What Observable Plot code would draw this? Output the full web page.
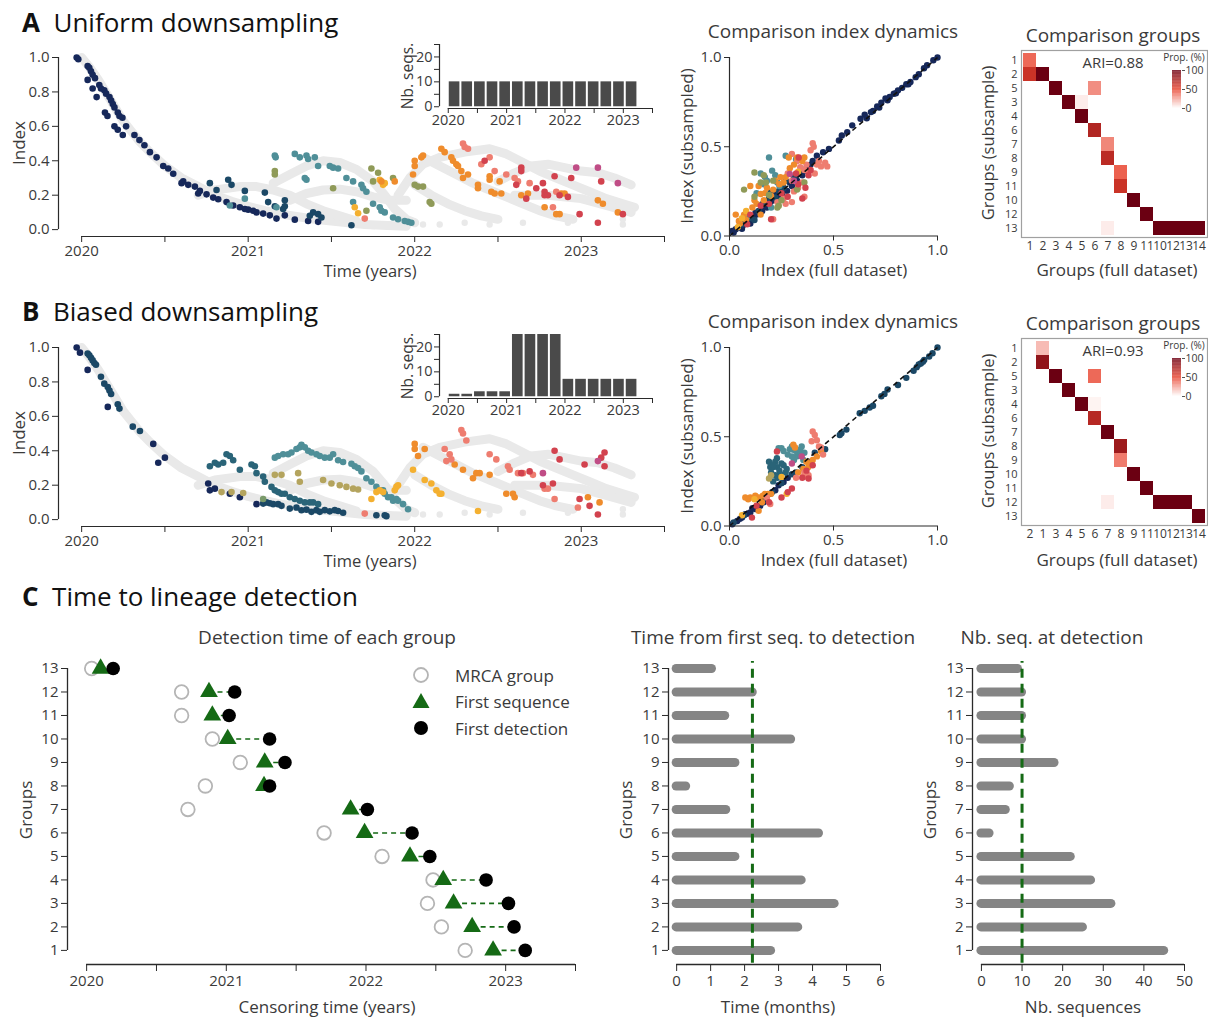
<!DOCTYPE html>
<html><head><meta charset="utf-8">
<script src="https://cdn.jsdelivr.net/npm/d3@7"></script>
<script src="https://cdn.jsdelivr.net/npm/@observablehq/plot@0.6"></script>
<style>
body{margin:0;background:#fff;}
#root{position:relative;width:1208px;height:1020px;overflow:hidden;font-family:"Open Sans","Noto Sans",sans-serif;color:#333;}
.t{position:absolute;white-space:nowrap;line-height:1;}
</style></head><body><div id="root"></div><script>
// ---------------- DATA ----------------
// colour keys for lineage groups
const palette = {N:"#16285a", D:"#1b4866", U:"#2a6478", T:"#4f8f98", O:"#8f9a58", K:"#b4a45e", G:"#7a9a6a",
  Y:"#f4b030", R:"#ef8c2c", S:"#ee7d70", E:"#d2424e", M:"#c04d86"};

// full-dataset background tracks (years since 2020, index)
const grayBands = [
 [[0,1.0],[0.05,0.94],[0.1,0.87],[0.15,0.79],[0.2,0.71],[0.25,0.63],[0.3,0.57],[0.35,0.51],[0.4,0.46],[0.5,0.37],[0.6,0.30],[0.7,0.25],[0.8,0.20],[0.9,0.165],[1.0,0.135],[1.1,0.11],[1.2,0.09],[1.3,0.075],[1.4,0.06],[1.5,0.05],[1.6,0.04],[1.7,0.03],[1.8,0.025],[1.95,0.02]],
 [[0.7,0.2],[0.8,0.23],[0.95,0.25],[1.05,0.25],[1.15,0.23],[1.25,0.2],[1.35,0.15],[1.45,0.11],[1.55,0.08],[1.65,0.05]],
 [[1.15,0.27],[1.25,0.32],[1.35,0.37],[1.45,0.40],[1.55,0.39],[1.65,0.35],[1.75,0.28],[1.82,0.2],[1.88,0.12],[1.95,0.06],[2.0,0.04]],
 [[1.25,0.17],[1.35,0.21],[1.45,0.23],[1.55,0.235],[1.65,0.22],[1.75,0.19],[1.85,0.17],[1.95,0.17]],
 [[1.9,0.2],[1.97,0.3],[2.05,0.38],[2.15,0.42],[2.3,0.45],[2.45,0.47],[2.55,0.44],[2.65,0.39],[2.75,0.34],[2.85,0.3],[2.95,0.26],[3.05,0.22],[3.15,0.18],[3.25,0.15],[3.32,0.13]],
 [[2.05,0.42],[2.15,0.37],[2.25,0.32],[2.35,0.27],[2.45,0.23],[2.55,0.19],[2.65,0.15],[2.75,0.11],[2.85,0.08],[2.95,0.06]],
 [[2.5,0.28],[2.6,0.33],[2.7,0.37],[2.8,0.38],[2.9,0.36],[3.0,0.34],[3.1,0.33],[3.2,0.3],[3.3,0.26]],
 [[2.6,0.2],[2.8,0.2],[3.0,0.18],[3.15,0.14],[3.3,0.1]],
 [[2.0,0.26],[2.1,0.2],[2.2,0.15],[2.3,0.11],[2.4,0.08],[2.5,0.06]]
];
const grayDots = [[2.15,0.03],[2.3,0.04],[2.45,0.03],[2.92,0.04],[3.25,0.03],[3.25,0.06],[2.65,0.04],[2.05,0.03],[1.85,0.03],[1.75,0.02]];

// uniform downsampling: [years since 2020, index, group]
const uniformPts = [
 [-0.03,1.0,"N"],[-0.02,0.99,"N"],[0.036,0.95,"N"],[0.046,0.94,"N"],[0.056,0.92,"N"],[0.066,0.90,"N"],[0.08,0.88,"N"],[0.036,0.87,"N"],[0.066,0.82,"N"],[0.106,0.84,"N"],[0.116,0.82,"N"],[0.136,0.81,"N"],[0.147,0.79,"N"],[0.167,0.77,"N"],[0.177,0.75,"N"],[0.187,0.73,"N"],[0.197,0.71,"N"],[0.217,0.68,"N"],[0.227,0.66,"N"],[0.245,0.65,"N"],[0.09,0.77,"N"],[0.14,0.68,"N"],[0.155,0.66,"N"],[0.197,0.60,"N"],[0.217,0.58,"N"],[0.247,0.55,"N"],[0.267,0.60,"N"],[0.317,0.55,"N"],[0.347,0.52,"N"],[0.377,0.49,"N"],[0.41,0.45,"N"],[0.45,0.42,"N"],[0.49,0.37,"N"],[0.52,0.355,"N"],[0.55,0.325,"N"],[0.61,0.28,"N"],[0.64,0.26,"N"],[0.68,0.25,"N"],[0.71,0.225,"N"],[0.75,0.205,"N"],[0.79,0.186,"N"],[0.82,0.176,"N"],[0.87,0.16,"N"],[0.91,0.14,"N"],[0.95,0.13,"N"],[1.0,0.116,"N"],[1.05,0.10,"N"],[1.09,0.093,"N"],[1.13,0.083,"N"],[1.17,0.064,"N"],[1.22,0.083,"N"],[1.28,0.058,"N"],[1.36,0.05,"N"],[1.42,0.045,"N"],[0.70,0.21,"N"],[0.60,0.27,"N"],[0.98,0.12,"N"],[1.03,0.11,"N"],
 [0.77,0.27,"D"],[0.81,0.23,"D"],[0.88,0.29,"D"],[0.90,0.26,"D"],[0.98,0.225,"D"],[1.10,0.215,"D"],[1.12,0.16,"D"],[1.16,0.136,"D"],[1.22,0.17,"D"],[1.22,0.136,"D"],[1.21,0.12,"D"],[1.39,0.10,"D"],[1.44,0.07,"D"],[1.62,0.025,"D"],[1.37,0.08,"D"],[1.42,0.09,"D"],
 [0.89,0.14,"T"],[0.98,0.18,"T"],[1.16,0.43,"T"],[1.165,0.42,"T"],[1.28,0.44,"T"],[1.31,0.42,"T"],[1.35,0.43,"T"],[1.36,0.41,"T"],[1.40,0.42,"T"],[1.42,0.37,"T"],[1.49,0.37,"T"],[1.51,0.36,"T"],[1.54,0.355,"T"],[1.59,0.30,"T"],[1.63,0.28,"T"],[1.68,0.26,"T"],[1.69,0.24,"T"],[1.71,0.22,"T"],[1.75,0.15,"T"],[1.79,0.13,"T"],[1.80,0.11,"T"],[1.34,0.30,"T"],[1.35,0.29,"T"],[1.63,0.16,"T"],[1.82,0.10,"T"],[1.87,0.07,"T"],[1.90,0.06,"T"],[1.94,0.05,"T"],[1.96,0.045,"T"],[1.98,0.04,"T"],[1.17,0.13,"T"],
 [1.16,0.34,"O"],[1.16,0.32,"O"],[1.51,0.24,"O"],[1.74,0.355,"O"],[1.78,0.33,"O"],[1.75,0.28,"O"],[1.71,0.11,"O"],[1.87,0.30,"O"],[2.0,0.26,"O"],[2.02,0.25,"O"],[2.05,0.25,"O"],[2.09,0.16,"O"],[2.1,0.15,"O"],
 [1.64,0.13,"Y"],[1.66,0.095,"Y"],[1.79,0.29,"Y"],[1.81,0.26,"Y"],[1.82,0.27,"Y"],
 [1.88,0.28,"R"],[1.80,0.28,"R"],[2.0,0.40,"R"],[2.0,0.37,"R"],[1.99,0.32,"R"],[2.04,0.42,"R"],[2.05,0.43,"R"],[2.16,0.47,"R"],[2.18,0.45,"R"],[2.22,0.42,"R"],[2.23,0.40,"R"],[2.25,0.38,"R"],[2.26,0.37,"R"],[2.28,0.34,"R"],[2.29,0.30,"R"],[2.32,0.32,"R"],[2.38,0.26,"R"],[2.38,0.24,"R"],[2.45,0.31,"R"],[2.45,0.29,"R"],[2.46,0.22,"R"],[2.48,0.21,"R"],[2.51,0.28,"R"],[2.52,0.21,"R"],[2.64,0.20,"R"],[2.68,0.21,"R"],[2.78,0.13,"R"],[2.85,0.09,"R"],[2.87,0.09,"R"],[2.88,0.21,"R"],[2.90,0.21,"R"],[3.1,0.17,"R"],[3.13,0.15,"R"],[3.22,0.10,"R"],
 [2.29,0.50,"S"],[2.30,0.48,"S"],[2.32,0.47,"S"],[2.40,0.38,"S"],[2.45,0.42,"S"],[2.48,0.34,"S"],[2.55,0.32,"S"],[2.60,0.30,"S"],[2.62,0.28,"S"],[2.83,0.13,"S"],[2.85,0.22,"S"],[1.70,0.064,"S"],[2.69,0.27,"S"],
 [2.42,0.40,"E"],[2.64,0.36,"E"],[2.64,0.34,"E"],[2.73,0.24,"E"],[2.77,0.27,"E"],[2.78,0.22,"E"],[2.78,0.20,"E"],[2.80,0.20,"E"],[2.84,0.31,"E"],[2.87,0.20,"E"],[2.92,0.19,"E"],[2.67,0.18,"E"],[2.99,0.09,"E"],[2.94,0.30,"E"],[3.1,0.04,"E"],[3.12,0.28,"E"],[3.25,0.09,"E"],[2.61,0.26,"E"],
 [2.97,0.36,"M"],[3.1,0.36,"M"],[3.22,0.27,"M"]
];

// biased downsampling: [years since 2020, index, group]
const biasedPts = [
 [-0.03,1.0,"N"],[-0.01,0.97,"N"],[0.036,0.87,"N"],[0.157,0.655,"N"],[0.43,0.44,"N"],[0.46,0.33,"N"],[0.50,0.36,"N"],[0.76,0.21,"N"],[0.77,0.17,"N"],[0.80,0.18,"N"],[0.89,0.15,"N"],[0.95,0.13,"N"],[1.05,0.09,"N"],
 [0.036,0.965,"D"],[0.046,0.955,"D"],[0.056,0.94,"D"],[0.066,0.925,"D"],[0.076,0.91,"D"],[0.086,0.90,"D"],[0.116,0.83,"D"],[0.136,0.79,"D"],[0.157,0.77,"D"],[0.167,0.75,"D"],[0.177,0.73,"D"],[0.217,0.67,"D"],[0.227,0.645,"D"],[0.307,0.54,"D"],[0.35,0.515,"D"],
 [1.09,0.093,"D"],[1.11,0.10,"D"],[1.13,0.095,"D"],[1.15,0.09,"D"],[1.18,0.09,"D"],[1.20,0.08,"D"],[1.25,0.064,"D"],[1.29,0.07,"D"],[1.32,0.054,"D"],[1.35,0.058,"D"],[1.38,0.045,"D"],[1.41,0.055,"D"],[1.43,0.045,"D"],[1.46,0.055,"D"],[1.49,0.048,"D"],[1.52,0.055,"D"],[1.54,0.05,"D"],[1.57,0.04,"D"],[1.77,0.025,"D"],[1.82,0.025,"D"],[1.83,0.02,"D"],
 [0.77,0.31,"U"],[0.80,0.33,"U"],[0.82,0.32,"U"],[0.85,0.33,"U"],[0.87,0.38,"U"],[0.89,0.37,"U"],[0.91,0.345,"U"],[0.95,0.29,"U"],[1.02,0.32,"U"],[1.04,0.31,"U"],[1.05,0.27,"U"],[1.09,0.25,"U"],[1.10,0.22,"U"],[1.14,0.19,"U"],[1.16,0.17,"U"],[1.18,0.16,"U"],[1.20,0.15,"U"],[1.22,0.15,"U"],[1.25,0.13,"U"],[1.28,0.12,"U"],[1.31,0.11,"U"],[1.34,0.10,"U"],[1.37,0.10,"U"],[1.39,0.10,"U"],[1.42,0.09,"U"],
 [1.16,0.36,"T"],[1.18,0.37,"T"],[1.21,0.38,"T"],[1.24,0.38,"T"],[1.26,0.39,"T"],[1.29,0.41,"T"],[1.31,0.42,"T"],[1.32,0.435,"T"],[1.34,0.42,"T"],[1.36,0.40,"T"],[1.38,0.39,"T"],[1.41,0.38,"T"],[1.43,0.37,"T"],[1.46,0.36,"T"],[1.49,0.36,"T"],[1.51,0.38,"T"],[1.54,0.345,"T"],[1.57,0.335,"T"],[1.62,0.325,"T"],[1.64,0.31,"T"],[1.66,0.30,"T"],[1.68,0.28,"T"],[1.71,0.24,"T"],[1.74,0.22,"T"],[1.77,0.19,"T"],[1.80,0.17,"T"],[1.81,0.17,"T"],[1.84,0.13,"T"],[1.86,0.13,"T"],[1.87,0.11,"T"],[1.89,0.12,"T"],[1.90,0.11,"T"],[1.93,0.09,"T"],[1.96,0.06,"T"],[1.82,0.15,"T"],
 [0.84,0.16,"K"],[0.90,0.16,"K"],[0.97,0.155,"K"],[1.16,0.26,"K"],[1.20,0.26,"K"],[1.30,0.27,"K"],[1.31,0.22,"K"],[1.45,0.23,"K"],[1.50,0.21,"K"],[1.55,0.20,"K"],[1.59,0.19,"K"],[1.63,0.18,"K"],[1.66,0.175,"K"],
 [1.09,0.12,"G"],
 [1.74,0.12,"Y"],[1.77,0.16,"Y"],[1.79,0.17,"Y"],[1.81,0.16,"Y"],[1.88,0.17,"Y"],[1.89,0.19,"Y"],[1.90,0.20,"Y"],[2.06,0.23,"Y"],[2.10,0.21,"Y"],[2.13,0.17,"Y"],[2.15,0.15,"Y"],[2.16,0.15,"Y"],[1.99,0.29,"Y"],[2.38,0.05,"Y"],
 [2.0,0.44,"R"],[2.0,0.41,"R"],[2.02,0.37,"R"],[2.06,0.41,"R"],[2.24,0.32,"R"],[2.29,0.29,"R"],[2.35,0.24,"R"],[2.37,0.27,"R"],[2.39,0.27,"R"],[2.45,0.26,"R"],[2.55,0.15,"R"],[2.59,0.15,"R"],[2.60,0.13,"R"],[3.04,0.13,"R"],[3.11,0.10,"R"],
 [2.28,0.52,"S"],[2.29,0.50,"S"],[2.31,0.46,"S"],[2.18,0.41,"S"],[2.21,0.38,"S"],[2.19,0.34,"S"],[2.22,0.35,"S"],[2.45,0.38,"S"],[2.49,0.35,"S"],[2.56,0.31,"S"],[2.57,0.29,"S"],[2.62,0.27,"S"],[2.65,0.27,"S"],[2.71,0.26,"S"],[2.78,0.18,"S"],[2.80,0.18,"S"],[2.84,0.12,"S"],[2.98,0.07,"S"],[1.70,0.035,"S"],
 [2.64,0.27,"E"],[2.69,0.28,"E"],[2.77,0.20,"E"],[2.83,0.21,"E"],[2.84,0.40,"E"],[2.87,0.35,"E"],[2.99,0.12,"E"],[3.02,0.32,"E"],[3.05,0.08,"E"],[3.10,0.03,"E"],[3.12,0.36,"E"],[3.14,0.31,"E"],[3.14,0.39,"E"],
 [2.77,0.27,"M"],[3.10,0.34,"M"]
];

// sequences per sampling window (15 windows from 2020 to 2023.25)
const insetCountsA = [10,10,10,10,10,10,10,10,10,10,10,10,10,10,10];
const insetCountsB = [1,1,2,2,2,25,25,25,25,7,7,7,7,7,7];

// comparison: [index full dataset, index subsampled, group]
const compA = [
 [1,1,"N"],[0.98,0.985,"N"],[0.95,0.957,"N"],[0.935,0.94,"N"],[0.91,0.906,"N"],[0.895,0.89,"N"],[0.87,0.863,"N"],[0.85,0.85,"N"],[0.83,0.83,"N"],[0.81,0.816,"N"],[0.79,0.797,"N"],[0.77,0.779,"N"],[0.76,0.76,"N"],[0.73,0.747,"N"],[0.71,0.726,"N"],[0.68,0.694,"N"],[0.65,0.679,"N"],[0.63,0.657,"N"],[0.59,0.62,"N"],[0.566,0.582,"N"],[0.54,0.563,"N"],[0.526,0.535,"N"],[0.478,0.488,"N"],[0.45,0.469,"N"],[0.42,0.45,"N"],[0.40,0.42,"N"],[0.75,0.77,"N"],[0.72,0.72,"N"],[0.69,0.70,"N"],[0.86,0.85,"N"],[0.80,0.80,"N"],[0.66,0.66,"N"],
 [0.013,0.028,"N"],[0.03,0.038,"N"],[0.053,0.056,"N"],[0.077,0.075,"N"],[0.09,0.08,"N"],[0.117,0.10,"N"],[0.13,0.12,"N"],[0.157,0.14,"N"],[0.18,0.16,"N"],[0.197,0.19,"N"],[0.21,0.2,"N"],[0.237,0.216,"N"],[0.253,0.235,"N"],[0.277,0.253,"N"],[0.30,0.28,"N"],[0.325,0.31,"N"],[0.35,0.34,"N"],[0.365,0.366,"N"],[0.38,0.385,"N"],[0.14,0.13,"N"],[0.1,0.07,"N"],[0.06,0.04,"N"],
 [0.02,0.02,"N"],[0.045,0.05,"N"],[0.065,0.06,"N"],[0.085,0.09,"N"],[0.105,0.11,"N"],[0.125,0.13,"N"],[0.17,0.17,"N"],[0.19,0.17,"N"],[0.225,0.24,"N"],[0.245,0.25,"N"],[0.265,0.26,"N"],[0.29,0.30,"N"],[0.315,0.33,"N"],[0.34,0.35,"N"],[0.37,0.38,"N"],[0.39,0.40,"N"],
 [0.10,0.10,"D"],[0.14,0.14,"D"],[0.157,0.178,"D"],[0.197,0.244,"D"],[0.22,0.216,"D"],[0.237,0.253,"D"],[0.26,0.27,"D"],[0.27,0.31,"D"],[0.31,0.33,"D"],[0.06,0.066,"D"],[0.19,0.21,"D"],[0.12,0.09,"D"],
 [0.19,0.44,"T"],[0.27,0.45,"T"],[0.205,0.366,"T"],[0.22,0.34,"T"],[0.15,0.35,"T"],[0.165,0.29,"T"],[0.32,0.43,"T"],[0.24,0.28,"T"],[0.09,0.11,"T"],[0.2,0.16,"T"],[0.17,0.33,"T"],[0.18,0.31,"T"],[0.23,0.30,"T"],[0.13,0.24,"T"],
 [0.40,0.52,"S"],[0.405,0.50,"S"],[0.30,0.46,"S"],[0.325,0.42,"S"],[0.28,0.35,"S"],[0.30,0.31,"S"],[0.34,0.385,"S"],[0.37,0.40,"S"],[0.42,0.40,"S"],[0.44,0.39,"S"],[0.47,0.39,"S"],[0.41,0.35,"S"],[0.36,0.22,"S"],[0.26,0.21,"S"],[0.21,0.094,"S"],[0.23,0.19,"S"],[0.30,0.19,"S"],[0.33,0.27,"S"],[0.39,0.48,"S"],[0.43,0.42,"S"],[0.46,0.41,"S"],[0.38,0.36,"S"],[0.35,0.30,"S"],[0.31,0.25,"S"],[0.27,0.18,"S"],[0.36,0.37,"S"],
 [0.03,0.12,"R"],[0.045,0.084,"R"],[0.10,0.28,"R"],[0.14,0.28,"R"],[0.15,0.235,"R"],[0.165,0.20,"R"],[0.20,0.225,"R"],[0.22,0.31,"R"],[0.245,0.33,"R"],[0.285,0.44,"R"],[0.325,0.44,"R"],[0.35,0.42,"R"],[0.15,0.12,"R"],[0.11,0.16,"R"],[0.07,0.12,"R"],[0.18,0.27,"R"],[0.26,0.30,"R"],[0.12,0.2,"R"],[0.08,0.09,"R"],[0.13,0.18,"R"],[0.17,0.24,"R"],[0.21,0.26,"R"],[0.24,0.29,"R"],[0.27,0.33,"R"],[0.29,0.38,"R"],[0.31,0.40,"R"],[0.36,0.44,"R"],[0.05,0.07,"R"],
 [0.04,0.05,"Y"],[0.06,0.1,"Y"],[0.08,0.14,"Y"],[0.33,0.36,"Y"],
 [0.07,0.26,"O"],[0.12,0.356,"O"],[0.165,0.34,"O"],[0.175,0.30,"O"],[0.15,0.30,"O"],[0.237,0.17,"O"],[0.23,0.16,"O"],[0.36,0.30,"O"],[0.325,0.26,"O"],[0.25,0.2,"O"],[0.12,0.22,"O"],[0.19,0.23,"O"],[0.21,0.31,"O"],
 [0.10,0.12,"E"],[0.085,0.066,"E"],[0.19,0.18,"E"],[0.2,0.094,"E"],[0.333,0.44,"E"],[0.365,0.27,"E"],[0.38,0.34,"E"],[0.35,0.21,"E"],[0.32,0.35,"E"],[0.28,0.22,"E"],[0.39,0.37,"E"],[0.33,0.29,"E"],[0.25,0.24,"E"],[0.15,0.17,"E"],
 [0.31,0.31,"M"],[0.29,0.347,"M"]
];
const compB = [
 [1,1,"D"],[0.976,0.968,"D"],[0.96,0.95,"D"],[0.936,0.93,"D"],[0.92,0.91,"D"],[0.9,0.89,"D"],[0.885,0.87,"D"],[0.85,0.83,"D"],[0.81,0.79,"D"],[0.76,0.765,"D"],[0.745,0.74,"D"],[0.73,0.727,"D"],[0.69,0.674,"D"],[0.674,0.664,"D"],[0.65,0.645,"D"],[0.626,0.632,"D"],[0.562,0.54,"D"],[0.538,0.52,"D"],[0.53,0.51,"D"],[0.46,0.43,"D"],[0.41,0.41,"D"],[0.93,0.92,"D"],[0.91,0.905,"D"],
 [0.013,0.01,"N"],[0.037,0.028,"N"],[0.06,0.047,"N"],[0.076,0.066,"N"],[0.1,0.076,"N"],[0.124,0.095,"N"],[0.148,0.114,"N"],[0.164,0.133,"N"],[0.196,0.18,"N"],[0.22,0.2,"N"],[0.236,0.228,"N"],[0.26,0.247,"N"],[0.28,0.27,"N"],[0.09,0.07,"N"],[0.11,0.1,"N"],[0.05,0.04,"N"],
 [0.02,0.02,"D"],[0.07,0.06,"D"],[0.16,0.15,"D"],[0.18,0.17,"D"],[0.205,0.19,"D"],[0.25,0.24,"D"],[0.30,0.29,"D"],[0.32,0.30,"D"],[0.35,0.33,"D"],[0.38,0.36,"D"],
 [0.19,0.36,"U"],[0.196,0.33,"U"],[0.21,0.33,"U"],[0.228,0.38,"U"],[0.22,0.36,"U"],[0.22,0.285,"U"],[0.244,0.29,"U"],[0.275,0.32,"U"],[0.21,0.25,"U"],[0.2,0.3,"U"],[0.25,0.35,"U"],[0.23,0.33,"U"],[0.24,0.31,"U"],[0.26,0.34,"U"],[0.21,0.34,"U"],[0.23,0.27,"U"],[0.27,0.30,"U"],
 [0.236,0.436,"T"],[0.25,0.436,"T"],[0.30,0.446,"T"],[0.307,0.427,"T"],[0.34,0.427,"T"],[0.347,0.446,"T"],[0.323,0.39,"T"],[0.355,0.37,"T"],[0.28,0.40,"T"],[0.33,0.41,"T"],[0.31,0.37,"T"],[0.26,0.42,"T"],[0.29,0.43,"T"],[0.32,0.42,"T"],[0.30,0.39,"T"],[0.34,0.40,"T"],[0.36,0.41,"T"],
 [0.076,0.16,"R"],[0.10,0.16,"R"],[0.124,0.17,"R"],[0.14,0.16,"R"],[0.17,0.18,"R"],[0.185,0.18,"R"],[0.156,0.133,"R"],[0.307,0.455,"R"],[0.315,0.44,"R"],[0.355,0.32,"R"],[0.379,0.33,"R"],[0.387,0.35,"R"],[0.40,0.37,"R"],[0.14,0.085,"R"],[0.09,0.15,"R"],[0.16,0.17,"R"],[0.20,0.18,"R"],[0.33,0.30,"R"],[0.37,0.36,"R"],[0.42,0.39,"R"],[0.44,0.42,"R"],
 [0.275,0.18,"Y"],[0.25,0.275,"Y"],[0.06,0.06,"Y"],[0.12,0.15,"Y"],
 [0.40,0.53,"S"],[0.41,0.51,"S"],[0.395,0.475,"S"],[0.43,0.446,"S"],[0.45,0.40,"S"],[0.38,0.285,"S"],[0.355,0.275,"S"],[0.196,0.123,"S"],[0.18,0.16,"S"],[0.42,0.48,"S"],[0.44,0.44,"S"],[0.36,0.30,"S"],[0.32,0.27,"S"],
 [0.228,0.417,"E"],[0.37,0.31,"E"],[0.19,0.133,"E"],[0.13,0.114,"E"],[0.108,0.047,"E"],[0.3,0.21,"E"],[0.28,0.19,"E"],[0.38,0.266,"E"],[0.35,0.27,"E"],[0.40,0.34,"E"],[0.25,0.16,"E"],
 [0.30,0.35,"M"],[0.347,0.39,"M"],
 [0.19,0.266,"K"],[0.2,0.285,"K"]
];

// comparison groups heatmaps
const heatRowsA = ["1","2","5","3","4","6","7","8","9","11","10","12","13"];
const heatColsA = ["1","2","3","4","5","6","7","8","9","11","10","12","13","14"];
const heatCellsA = [ // [row index, column index, proportion %]
 [0,0,40],[1,0,62],[1,1,100],[2,2,100],[2,5,30],[3,3,100],[3,4,5],[4,4,100],[5,5,72],[6,6,32],[7,6,68],
 [8,7,42],[9,7,62],[10,8,100],[11,9,100],[12,6,5],[12,10,100],[12,11,100],[12,12,100],[12,13,100]];
const ariA = "ARI=0.88";
const heatRowsB = ["1","2","5","3","4","6","7","8","9","10","11","12","13"];
const heatColsB = ["2","1","3","4","5","6","7","8","9","11","10","12","13","14"];
const heatCellsB = [
 [0,1,18],[1,1,85],[2,2,100],[2,5,40],[3,3,100],[4,4,100],[4,5,3],[5,5,70],[6,6,100],[7,7,80],[8,7,35],
 [9,8,100],[10,9,100],[11,6,5],[11,10,100],[11,11,100],[11,12,100],[12,13,100]];
const ariB = "ARI=0.93";

// panel C: lineage groups, dates in years
const groups = [1,2,3,4,5,6,7,8,9,10,11,12,13];
const mrcaTime   = [2022.71,2022.54,2022.44,2022.48,2022.115,2021.70,2020.725,2020.85,2021.10,2020.90,2020.68,2020.68,2020.036];
const firstSeq   = [2022.91,2022.76,2022.627,2022.553,2022.315,2021.99,2021.89,2021.27,2021.275,2021.01,2020.90,2020.876,2020.10];
const detectTime = [2023.14,2023.06,2023.02,2022.86,2022.457,2022.33,2022.01,2021.31,2021.42,2021.31,2021.02,2021.06,2020.19];
const monthsToDetect = [2.78,3.58,4.65,3.68,1.73,4.19,1.46,0.28,1.73,3.37,1.43,2.24,1.04];
const seqsAtDetect   = [45,25,32,27,22,2,6,7,18,10,10,10,9];
const meanMonths = 2.23;
const seqThreshold = 10;

// ---------------- DRAWING ----------------
const FONT = '"Open Sans","Noto Sans",sans-serif';
const root = document.getElementById("root");
const GREEN = "#156a15";
const AX = "#2a2a2a";
function put(node, left, top){ node.style.position="absolute"; node.style.left=left+"px"; node.style.top=top+"px"; root.appendChild(node); }
function label(text, x, y, o={}){
  const {size=17, rotate=0, anchor="middle", color="#3a3a3a", weight=400, html=false} = o;
  const d=document.createElement("div"); d.className="t";
  if(html) d.innerHTML=text; else d.textContent=text;
  d.style.fontSize=size+"px"; d.style.color=color; d.style.fontWeight=weight;
  d.style.left=x+"px"; d.style.top=y+"px";
  const tx = anchor==="middle"?"-50%":anchor==="start"?"0":"-100%";
  d.style.transform=`translate(${tx},-50%) rotate(${rotate}deg)`;
  root.appendChild(d);
}
const baseStyle = (fs)=>({fontFamily:FONT, fontSize:fs, color:"#3a3a3a", background:"transparent", overflow:"visible"});
const halfYears = [2020,2020.5,2021,2021.5,2022,2022.5,2023,2023.5];
const yearFmt = d => Number.isInteger(d) ? String(d) : "";

function mainScatter(points){
  const bandRows = grayBands.flatMap((b,i)=>b.map(p=>({t:2020+p[0], v:p[1], z:i})));
  return Plot.plot({
    width:680, height:245, marginLeft:58, marginRight:16, marginTop:17, marginBottom:49,
    x:{domain:[2019.861,2023.5]}, y:{domain:[-0.04,1]},
    style: baseStyle("15px"),
    marks:[
      Plot.line(bandRows,{x:"t", y:"v", z:"z", stroke:"#e9e9e9", strokeWidth:9, strokeLinecap:"round", strokeLinejoin:"round"}),
      Plot.dot(grayDots,{x:d=>2020+d[0], y:d=>d[1], r:3.2, fill:"#e9e9e9"}),
      Plot.dot(points,{x:d=>2020+d[0], y:d=>d[1], r:3.3, fill:d=>palette[d[2]]}),
      Plot.ruleY([-0.04],{x1:2020, x2:2023.5, stroke:AX, strokeWidth:1.2}),
      Plot.ruleX([2019.861],{y1:0, y2:1, stroke:AX, strokeWidth:1.2}),
      Plot.axisX({ticks:halfYears, tickFormat:yearFmt, tickSize:6, tickPadding:3, label:null, stroke:AX}),
      Plot.axisY({ticks:[0,0.2,0.4,0.6,0.8,1], tickFormat:d=>d.toFixed(1), tickSize:6, tickPadding:3, label:null, stroke:AX})
    ]
  });
}
function insetBars(counts){
  const idx = counts.map((_,i)=>i);
  const w = 3.25/counts.length;
  return Plot.plot({
    width:290, height:100, marginLeft:59, marginRight:18, marginTop:14, marginBottom:22,
    x:{domain:[2019.85,2023.5]}, y:{domain:[-0.7,25]},
    style: baseStyle("14.5px"),
    marks:[
      Plot.rectY(idx,{x1:i=>2020+i*w, x2:i=>2020+(i+1)*w, y1:0, y2:i=>counts[i], fill:"#4a4a4a", insetLeft:1, insetRight:1}),
      Plot.ruleY([-0.7],{x1:2020, x2:2023.5, stroke:AX, strokeWidth:1.2}),
      Plot.ruleX([2019.85],{y1:0, y2:25, stroke:AX, strokeWidth:1.2}),
      Plot.axisX({ticks:halfYears, tickFormat:yearFmt, tickSize:5, tickPadding:1, label:null, stroke:AX}),
      Plot.axisY({ticks:[0,5,10,15,20,25], tickFormat:d=>d%10===0?String(d):"", tickSize:5, tickPadding:2, label:null, stroke:AX})
    ]
  });
}
function compScatter(points){
  return Plot.plot({
    width:280, height:245, marginLeft:49, marginRight:23, marginTop:17, marginBottom:49.5,
    x:{domain:[0,1]}, y:{domain:[0,1]},
    style: baseStyle("15px"),
    marks:[
      Plot.dot(points,{x:d=>d[0], y:d=>d[1], r:3.2, fill:d=>palette[d[2]]}),
      Plot.link([0],{x1:0, y1:0, x2:1, y2:1, stroke:"#111", strokeWidth:1.6, strokeDasharray:"5,4"}),
      Plot.ruleY([0],{x1:0, x2:1, stroke:AX, strokeWidth:1.2}),
      Plot.ruleX([0],{y1:0, y2:1, stroke:AX, strokeWidth:1.2}),
      Plot.axisX({ticks:[0,0.5,1], tickFormat:d=>d.toFixed(1), tickSize:5, tickPadding:3, label:null, stroke:AX}),
      Plot.axisY({ticks:[0,0.5,1], tickFormat:d=>d.toFixed(1), tickSize:5, tickPadding:3, label:null, stroke:AX})
    ]
  });
}
const heatColor = {type:"linear", domain:[0,50,100], range:["#ffffff","#e8432e","#6b0012"]};
function heatmap(rows, cols, cells){
  return Plot.plot({
    width:233, height:225, marginLeft:46, marginRight:1, marginTop:10, marginBottom:28,
    x:{domain:cols, padding:0}, y:{domain:rows, padding:0},
    color: heatColor,
    style: baseStyle("12px"),
    marks:[
      Plot.cell(cells,{x:d=>cols[d[1]], y:d=>rows[d[0]], fill:d=>d[2], inset:0}),
      Plot.frame({stroke:"#a0a0a0", strokeWidth:1.2}),
      Plot.axisX({tickSize:0, tickPadding:4, label:null}),
      Plot.axisY({tickSize:0, tickPadding:4, label:null, fontSize:11})
    ]
  });
}
function heatLegend(){
  const steps = d3.range(0,100,2);
  return Plot.plot({
    width:36, height:50, marginLeft:7, marginRight:20, marginTop:6, marginBottom:6,
    x:{domain:[0,1], axis:null}, y:{domain:[0,100], axis:null}, color:heatColor,
    style: baseStyle("10.5px"),
    marks:[
      Plot.rect(steps,{x1:0, x2:1, y1:d=>d, y2:d=>d+2, fill:d=>d+1}),
      Plot.axisY({anchor:"right", ticks:[0,50,100], tickSize:3, tickPadding:1, label:null, stroke:"#555"})
    ]
  });
}

function panelRow(points, counts, comp, rows, cols, cells, ari, dy, hdy){
  put(mainScatter(points), 0, 40+dy);
  put(insetBars(counts), 380, 30+dy);
  put(compScatter(comp), 680, 40+dy);
  put(heatmap(rows, cols, cells), 975, 40+hdy);
  put(heatLegend(), 1165, 64+hdy);
  label("Index", 18, 143+dy, {rotate:-90});
  label("Time (years)", 370, 271+dy, {size:16.5});
  label("Nb. seqs.", 408, 76+dy, {rotate:-90, size:15.5});
  label("Comparison index dynamics", 833, 31+dy, {size:19});
  label("Index (subsampled)", 686, 146+dy, {rotate:-90});
  label("Index (full dataset)", 834, 269+dy);
  label("Comparison groups", 1113, 35+hdy, {size:19});
  label("Groups (subsample)", 988, 143+hdy, {rotate:-90, size:16.5});
  label("Groups (full dataset)", 1117, 269+dy);
  label(ari, 1113, 62+hdy, {size:15});
  label("Prop. (%)", 1184, 57+hdy, {size:10});
}
label("<b>A</b>&nbsp; Uniform downsampling", 22, 22, {size:26, anchor:"start", color:"#111", html:true});
label("<b>B</b>&nbsp; Biased downsampling", 22, 311, {size:26, anchor:"start", color:"#111", html:true});
label("<b>C</b>&nbsp; Time to lineage detection", 22, 596, {size:26, anchor:"start", color:"#111", html:true});
panelRow(uniformPts, insetCountsA, compA, heatRowsA, heatColsA, heatCellsA, ariA, 0, 0);
panelRow(biasedPts, insetCountsB, compB, heatRowsB, heatColsB, heatCellsB, ariB, 290, 288);

// ---- Panel C ----
const gi = groups.map((_,i)=>i);
put(Plot.plot({
  width:600, height:400, marginLeft:67, marginRight:25, marginTop:48, marginBottom:56,
  x:{domain:[2019.863,2023.5]}, y:{domain:[0.4,13]},
  style: baseStyle("15px"),
  marks:[
    Plot.ruleY(gi,{y:i=>groups[i], x1:i=>firstSeq[i], x2:i=>detectTime[i], stroke:GREEN, strokeWidth:1.6, strokeDasharray:"5,4"}),
    Plot.dot(gi,{x:i=>mrcaTime[i], y:i=>groups[i], r:6.8, fill:"white", stroke:"#b5b5b5", strokeWidth:1.8}),
    Plot.dot(gi,{x:i=>firstSeq[i], y:i=>groups[i], r:6.6, symbol:"triangle", fill:GREEN}),
    Plot.dot(gi,{x:i=>detectTime[i], y:i=>groups[i], r:6.8, fill:"#000"}),
    Plot.ruleY([0.4],{x1:2020, x2:2023.5, stroke:AX, strokeWidth:1.3}),
    Plot.ruleX([2019.863],{y1:1, y2:13, stroke:AX, strokeWidth:1.3}),
    Plot.axisX({ticks:halfYears, tickFormat:yearFmt, tickSize:7, tickPadding:4, label:null, stroke:AX}),
    Plot.axisY({ticks:groups, tickSize:6, tickPadding:3, label:null, stroke:AX})
  ]
}), 0, 620);
put(Plot.plot({
  width:300, height:400, marginLeft:68, marginRight:20, marginTop:48, marginBottom:56,
  x:{domain:[-0.24,6]}, y:{domain:[0.4,13]},
  style: baseStyle("15px"),
  marks:[
    Plot.ruleY(gi,{y:i=>groups[i], x1:0, x2:i=>monthsToDetect[i], stroke:"#858585", strokeWidth:9, strokeLinecap:"round"}),
    Plot.ruleX([meanMonths],{y1:0.45, y2:13.3, stroke:GREEN, strokeWidth:3, strokeDasharray:"9,6"}),
    Plot.ruleY([0.4],{x1:0, x2:6, stroke:AX, strokeWidth:1.3}),
    Plot.ruleX([-0.24],{y1:1, y2:13, stroke:AX, strokeWidth:1.3}),
    Plot.axisX({ticks:[0,1,2,3,4,5,6], tickFormat:d=>String(d), tickSize:7, tickPadding:4, label:null, stroke:AX}),
    Plot.axisY({ticks:groups, tickSize:6, tickPadding:3, label:null, stroke:AX})
  ]
}), 600, 620);
put(Plot.plot({
  width:308, height:400, marginLeft:72, marginRight:24, marginTop:48, marginBottom:56,
  x:{domain:[-2.2,50]}, y:{domain:[0.4,13]},
  style: baseStyle("15px"),
  marks:[
    Plot.ruleY(gi,{y:i=>groups[i], x1:0, x2:i=>seqsAtDetect[i], stroke:"#858585", strokeWidth:9, strokeLinecap:"round"}),
    Plot.ruleX([seqThreshold],{y1:0.45, y2:13.3, stroke:GREEN, strokeWidth:3, strokeDasharray:"9,6"}),
    Plot.ruleY([0.4],{x1:0, x2:50, stroke:AX, strokeWidth:1.3}),
    Plot.ruleX([-2.2],{y1:1, y2:13, stroke:AX, strokeWidth:1.3}),
    Plot.axisX({ticks:[0,10,20,30,40,50], tickFormat:d=>String(d), tickSize:7, tickPadding:4, label:null, stroke:AX}),
    Plot.axisY({ticks:groups, tickSize:6, tickPadding:3, label:null, stroke:AX})
  ]
}), 900, 620);

label("Detection time of each group", 327, 637, {size:19});
label("Groups", 25, 810, {rotate:-90});
label("Censoring time (years)", 327, 1006);
label("Time from first seq. to detection", 773, 637, {size:19});
label("Groups", 625, 810, {rotate:-90});
label("Time (months)", 778, 1006);
label("Nb. seq. at detection", 1052, 637, {size:19});
label("Groups", 929, 810, {rotate:-90});
label("Nb. sequences", 1083, 1006);

// legend for the detection plot
const legItems = [
  ['<circle cx="10" cy="10" r="7" fill="white" stroke="#b5b5b5" stroke-width="1.8"/>', "MRCA group", 675],
  ['<path d="M10,2 L18.5,17 L1.5,17 Z" fill="'+GREEN+'"/>', "First sequence", 701],
  ['<circle cx="10" cy="10" r="7" fill="#000"/>', "First detection", 728]
];
for (const [sym, txt, y] of legItems){
  const s = document.createElementNS("http://www.w3.org/2000/svg","svg");
  s.setAttribute("width",20); s.setAttribute("height",20); s.innerHTML = sym;
  put(s, 411, y-10);
  label(txt, 455, y, {size:17, anchor:"start"});
}
</script></body></html>
